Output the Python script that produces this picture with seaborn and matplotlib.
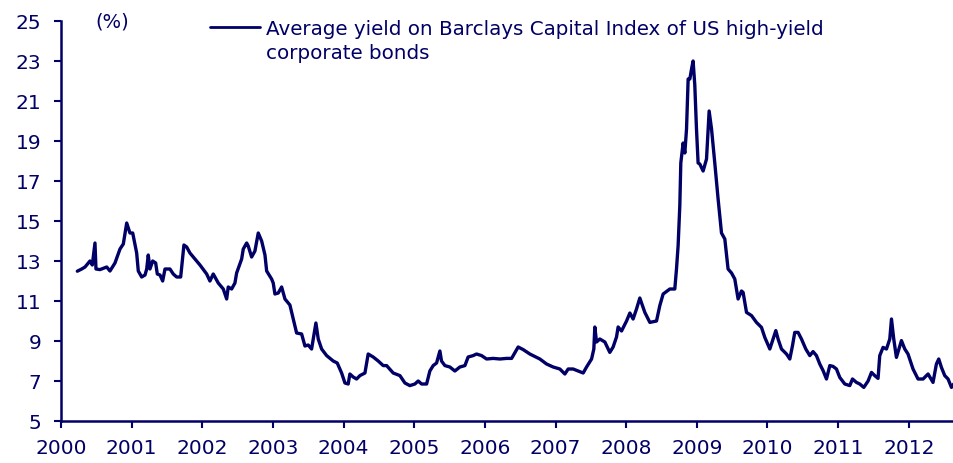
import seaborn as sns
import numpy as np
import matplotlib.pyplot as plt
import pandas as pd

# weekly-ish readings of the yield
years = [2000.231, 2000.293, 2000.340, 2000.410, 2000.443, 2000.481, 2000.495, 2000.552, 2000.647, 2000.693,
         2000.764, 2000.835, 2000.882, 2000.930, 2000.976, 2001.015, 2001.071, 2001.094, 2001.142, 2001.189,
         2001.213, 2001.235, 2001.259, 2001.298, 2001.340, 2001.363, 2001.401, 2001.439, 2001.472, 2001.542,
         2001.589, 2001.637, 2001.694, 2001.740, 2001.779, 2001.825, 2001.872, 2001.967, 2002.062, 2002.108,
         2002.155, 2002.226, 2002.297, 2002.345, 2002.367, 2002.415, 2002.462, 2002.486, 2002.557, 2002.580,
         2002.628, 2002.650, 2002.698, 2002.745, 2002.792, 2002.840, 2002.887, 2002.911, 2002.981, 2003.004,
         2003.028, 2003.075, 2003.123, 2003.170, 2003.240, 2003.287, 2003.335, 2003.406, 2003.453, 2003.499,
         2003.547, 2003.580, 2003.608, 2003.641, 2003.689, 2003.760, 2003.853, 2003.910, 2003.972, 2004.019,
         2004.065, 2004.089, 2004.136, 2004.184, 2004.231, 2004.302, 2004.348, 2004.419, 2004.490, 2004.561,
         2004.609, 2004.702, 2004.797, 2004.868, 2004.938, 2005.009, 2005.056, 2005.104, 2005.175, 2005.221,
         2005.268, 2005.316, 2005.363, 2005.386, 2005.434, 2005.504, 2005.575, 2005.646, 2005.717, 2005.763,
         2005.834, 2005.882, 2005.953, 2006.024, 2006.117, 2006.212, 2006.307, 2006.378, 2006.471, 2006.542,
         2006.636, 2006.778, 2006.873, 2006.966, 2007.061, 2007.132, 2007.179, 2007.249, 2007.320, 2007.391,
         2007.439, 2007.510, 2007.542, 2007.556, 2007.580, 2007.627, 2007.698, 2007.768, 2007.815, 2007.863,
         2007.886, 2007.934, 2008.005, 2008.052, 2008.098, 2008.146, 2008.193, 2008.264, 2008.335, 2008.429,
         2008.476, 2008.523, 2008.618, 2008.688, 2008.712, 2008.735, 2008.759, 2008.773, 2008.806, 2008.830,
         2008.854, 2008.877, 2008.901, 2008.925, 2008.947, 2008.971, 2008.995, 2009.018, 2009.042, 2009.089,
         2009.137, 2009.174, 2009.208, 2009.254, 2009.301, 2009.349, 2009.396, 2009.442, 2009.491, 2009.537,
         2009.584, 2009.632, 2009.655, 2009.703, 2009.774, 2009.844, 2009.915, 2009.962, 2010.033, 2010.079,
         2010.118, 2010.150, 2010.198, 2010.269, 2010.316, 2010.354, 2010.386, 2010.433, 2010.481, 2010.542,
         2010.599, 2010.645, 2010.693, 2010.740, 2010.787, 2010.835, 2010.882, 2010.928, 2010.976, 2011.023,
         2011.094, 2011.165, 2011.203, 2011.259, 2011.306, 2011.363, 2011.424, 2011.472, 2011.518, 2011.565,
         2011.589, 2011.636, 2011.684, 2011.731, 2011.755, 2011.787, 2011.825, 2011.896, 2011.943, 2011.989,
         2012.060, 2012.131, 2012.202, 2012.273, 2012.343, 2012.391, 2012.424, 2012.462, 2012.509, 2012.556,
         2012.604, 2012.636]
yields = [12.49, 12.6, 12.7, 13.0, 12.8, 13.9, 12.6, 12.57, 12.7, 12.5,
          12.9, 13.6, 13.85, 14.9, 14.4, 14.4, 13.4, 12.5, 12.2, 12.3,
          12.6, 13.3, 12.6, 13.0, 12.9, 12.35, 12.3, 12.0, 12.6, 12.6,
          12.35, 12.2, 12.2, 13.8, 13.7, 13.4, 13.2, 12.8, 12.35, 12.0,
          12.35, 11.9, 11.6, 11.1, 11.7, 11.6, 11.9, 12.4, 13.1, 13.6,
          13.9, 13.75, 13.2, 13.5, 14.4, 14.0, 13.3, 12.5, 12.1, 11.9,
          11.35, 11.4, 11.7, 11.1, 10.8, 10.1, 9.4, 9.35, 8.75, 8.8,
          8.6, 9.3, 9.9, 9.1, 8.6, 8.27, 8.0, 7.9, 7.4, 6.9,
          6.85, 7.35, 7.2, 7.1, 7.27, 7.4, 8.35, 8.2, 8.0, 7.77,
          7.77, 7.4, 7.27, 6.9, 6.77, 6.85, 7.0, 6.85, 6.85, 7.5,
          7.77, 7.9, 8.5, 8.0, 7.77, 7.7, 7.5, 7.7, 7.77, 8.2,
          8.27, 8.35, 8.27, 8.1, 8.13, 8.1, 8.13, 8.13, 8.7, 8.57,
          8.35, 8.1, 7.85, 7.7, 7.6, 7.35, 7.6, 7.6, 7.5, 7.4,
          7.7, 8.1, 8.6, 9.7, 8.95, 9.1, 8.95, 8.43, 8.7, 9.2,
          9.7, 9.5, 10.0, 10.4, 10.1, 10.6, 11.15, 10.43, 9.93, 10.0,
          10.77, 11.35, 11.6, 11.6, 12.6, 13.77, 15.77, 17.9, 18.9, 18.4,
          19.6, 22.1, 22.1, 22.6, 23.0, 21.8, 19.6, 17.9, 17.85, 17.5,
          18.1, 20.5, 19.6, 17.9, 16.1, 14.4, 14.1, 12.6, 12.4, 12.1,
          11.1, 11.5, 11.43, 10.43, 10.27, 9.93, 9.68, 9.18, 8.6, 9.1,
          9.52, 9.1, 8.6, 8.35, 8.1, 8.77, 9.43, 9.43, 9.1, 8.6,
          8.27, 8.47, 8.27, 7.85, 7.52, 7.1, 7.77, 7.73, 7.6, 7.18,
          6.85, 6.77, 7.1, 6.93, 6.85, 6.68, 7.0, 7.43, 7.27, 7.13,
          8.27, 8.68, 8.6, 9.1, 10.1, 9.1, 8.18, 9.02, 8.6, 8.35,
          7.6, 7.1, 7.1, 7.35, 6.93, 7.85, 8.1, 7.68, 7.27, 7.1,
          6.68, 6.85]
year_ticks = list(range(2000, 2013))
yield_ticks = list(range(5, 26, 2))
label_line1 = "Average yield on Barclays Capital Index of US high-yield"
label_line2 = "corporate bonds"

navy = "#000066"

sns.set_theme(style="ticks")
plt.rcParams['font.family'] = ['DejaVu Sans']

df = pd.DataFrame({"year": years, "yield": yields})

fig = plt.figure(figsize=(9.54, 4.64), dpi=100)
ax = fig.add_axes([61 / 954, 42 / 464, 893 / 954, 400 / 464])

sns.lineplot(data=df, x="year", y="yield", color=navy, linewidth=2.4, ax=ax, label=label_line1)

ax.set_xlim(2000, 2012.64)
ax.set_ylim(5, 25)
ax.set_xticks(year_ticks)
ax.set_yticks(yield_ticks)
ax.set_xlabel("")
ax.set_ylabel("")

for side in ["top", "right"]:
    ax.spines[side].set_visible(False)
for side in ["left", "bottom"]:
    ax.spines[side].set_color(navy)
    ax.spines[side].set_linewidth(1.8)
ax.tick_params(axis="both", colors=navy, labelcolor=navy, labelsize=14.5, length=5, width=1.5)
ax.tick_params(axis="y", pad=9)
ax.tick_params(axis="x", pad=7)

ax.text(0.038, 1.0, "(%)", transform=ax.transAxes, va="center", ha="left", color=navy, fontsize=14)

leg = ax.legend(loc="center left", bbox_to_anchor=(0.167, 0.982), frameon=False,
                borderpad=0, borderaxespad=0, handlelength=2.5, handletextpad=0.3,
                fontsize=14.3, labelcolor=navy)
leg.get_lines()[0].set_linewidth(2.0)
fig.canvas.draw()
ax.annotate(label_line2, xy=(0, 0), xycoords=leg.get_texts()[0], xytext=(0, -17.5),
            textcoords="offset points", ha="left", va="bottom", color=navy, fontsize=14.3,
            zorder=6)

fig.savefig("out.png", dpi=100)
